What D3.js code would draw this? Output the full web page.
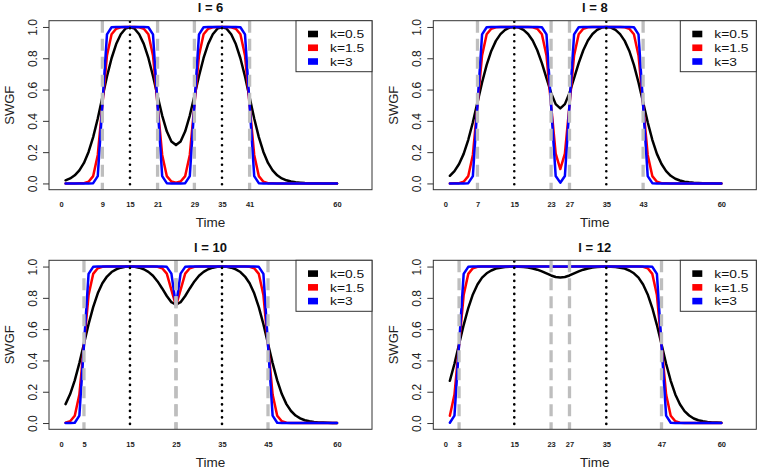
<!DOCTYPE html>
<html>
<head>
<meta charset="utf-8">
<script src="https://cdn.jsdelivr.net/npm/d3@7/dist/d3.min.js"></script>
<style>
  html, body { margin: 0; padding: 0; background: #fff; }
  svg { display: block; font-family: "Liberation Sans", Arial, Helvetica, sans-serif; }
</style>
</head>
<body>
<svg id="chart" width="760" height="469"></svg>
<script>
// ---------------- DATA ----------------
const time = [1,2,3,4,5,6,7,8,9,10,11,12,13,14,15,16,17,18,19,20,21,22,23,24,25,26,27,28,29,30,
              31,32,33,34,35,36,37,38,39,40,41,42,43,44,45,46,47,48,49,50,51,52,53,54,55,56,57,58,59,60];

const windowWidths = [6, 8, 10, 12];
const centers = [15, 35];
const seriesLabels = ["k=0.5", "k=1.5", "k=3"];

// x tick labels shown under each panel
const xTicksL6  = [0, 9, 15, 21, 29, 35, 41, 60];
const xTicksL8  = [0, 7, 15, 23, 27, 35, 43, 60];
const xTicksL10 = [0, 5, 15, 25, 35, 45, 60];
const xTicksL12 = [0, 3, 15, 23, 27, 35, 47, 60];

// dashed reference lines (window edges)
const edgesL6  = [9, 21, 29, 41];
const edgesL8  = [7, 23, 27, 43];
const edgesL10 = [5, 25, 25, 45];
const edgesL12 = [3, 23, 27, 47];

const yTicks = [0, 0.2, 0.4, 0.6, 0.8, 1.0];

// SWGF values, l = 6
const swgfL6k05 = [0.020,0.032,0.052,0.084,0.131,0.201,0.296,0.415,0.550,0.683,0.800,0.891,0.953,0.989,1.000,
                   0.989,0.953,0.892,0.802,0.687,0.559,0.434,0.333,0.268,0.245,0.268,0.333,0.434,0.559,0.687,
                   0.802,0.892,0.953,0.989,1.000,0.989,0.953,0.891,0.800,0.683,0.550,0.415,0.296,0.201,0.131,
                   0.084,0.052,0.032,0.020,0.012,0.007,0.005,0.003,0.002,0.001,0.001,0,0,0,0];
const swgfL6k15 = [0,0,0,0.001,0.002,0.011,0.047,0.182,0.500,0.818,0.953,0.989,0.998,1,1,
                   1,0.998,0.989,0.953,0.818,0.500,0.182,0.047,0.012,0.005,0.012,0.047,0.182,0.500,0.818,
                   0.953,0.989,0.998,1,1,1,0.998,0.989,0.953,0.818,0.500,0.182,0.047,0.011,0.002,
                   0.001,0,0,0,0,0,0,0,0,0,0,0,0,0,0];
const swgfL6k3  = [0,0,0,0,0,0,0.002,0.047,0.500,0.953,0.998,1,1,1,1,
                   1,1,1,0.998,0.953,0.500,0.047,0.002,0,0,0,0.002,0.047,0.500,0.953,
                   0.998,1,1,1,1,1,1,1,0.998,0.953,0.500,0.047,0.002,0,0,
                   0,0,0,0,0,0,0,0,0,0,0,0,0,0,0];

// SWGF values, l = 8
const swgfL8k05 = [0.049,0.079,0.124,0.189,0.279,0.391,0.518,0.645,0.758,0.847,0.911,0.954,0.981,0.996,1.000,
                   0.996,0.981,0.955,0.913,0.851,0.769,0.673,0.578,0.507,0.480,0.507,0.578,0.673,0.769,0.851,
                   0.913,0.955,0.981,0.996,1.000,0.996,0.981,0.954,0.911,0.847,0.758,0.645,0.518,0.391,0.279,
                   0.189,0.124,0.079,0.049,0.030,0.019,0.011,0.007,0.004,0.003,0.002,0.001,0.001,0,0];
const swgfL8k15 = [0,0.001,0.002,0.011,0.047,0.182,0.500,0.818,0.953,0.989,0.998,1,1,1,1,
                   1,1,1,0.998,0.989,0.953,0.818,0.501,0.191,0.092,0.191,0.501,0.818,0.953,0.989,
                   0.998,1,1,1,1,1,1,1,0.998,0.989,0.953,0.818,0.500,0.182,0.047,
                   0.011,0.002,0.001,0,0,0,0,0,0,0,0,0,0,0,0];
const swgfL8k3  = [0,0,0,0,0.002,0.047,0.500,0.953,0.998,1,1,1,1,1,1,
                   1,1,1,1,1,0.998,0.953,0.500,0.047,0.005,0.047,0.500,0.953,0.998,1,
                   1,1,1,1,1,1,1,1,1,1,0.998,0.953,0.500,0.047,0.002,
                   0,0,0,0,0,0,0,0,0,0,0,0,0,0,0];

// SWGF values, l = 10
const swgfL10k05 = [0.121,0.185,0.273,0.383,0.507,0.631,0.741,0.829,0.893,0.936,0.965,0.982,0.993,0.998,1.000,
                    0.998,0.993,0.983,0.966,0.941,0.905,0.860,0.812,0.772,0.757,0.772,0.812,0.860,0.905,0.941,
                    0.966,0.983,0.993,0.998,1.000,0.998,0.993,0.982,0.965,0.936,0.893,0.829,0.741,0.631,0.507,
                    0.383,0.273,0.185,0.121,0.077,0.048,0.030,0.018,0.011,0.007,0.004,0.003,0.002,0.001,0.001];
const swgfL10k15 = [0.002,0.011,0.047,0.182,0.500,0.818,0.953,0.989,0.998,1,1,1,1,1,1,
                    1,1,1,1,1,0.998,0.989,0.955,0.851,0.750,0.851,0.955,0.989,0.998,1,
                    1,1,1,1,1,1,1,1,1,1,0.998,0.989,0.953,0.818,0.500,
                    0.182,0.047,0.011,0.002,0.001,0,0,0,0,0,0,0,0,0,0];
const swgfL10k3  = [0,0,0.002,0.047,0.500,0.953,0.998,1,1,1,1,1,1,1,1,
                    1,1,1,1,1,1,1,0.998,0.955,0.750,0.955,0.998,1,1,1,
                    1,1,1,1,1,1,1,1,1,1,1,1,0.998,0.953,0.500,
                    0.047,0.002,0,0,0,0,0,0,0,0,0,0,0,0,0];

// SWGF values, l = 12
const swgfL12k05 = [0.270,0.379,0.503,0.626,0.735,0.822,0.885,0.929,0.957,0.975,0.987,0.993,0.997,0.999,1.000,
                    0.999,0.997,0.994,0.988,0.980,0.969,0.956,0.943,0.933,0.930,0.933,0.943,0.956,0.969,0.980,
                    0.988,0.994,0.997,0.999,1.000,0.999,0.997,0.993,0.987,0.975,0.957,0.929,0.885,0.822,0.735,
                    0.626,0.503,0.379,0.270,0.183,0.120,0.076,0.048,0.029,0.018,0.011,0.007,0.004,0.003,0.002];
const swgfL12k15 = [0.047,0.182,0.500,0.818,0.953,0.989,0.998,1,1,1,1,1,1,1,1,
                    1,1,1,1,1,1,1,0.999,0.998,0.998,0.998,0.999,1,1,1,
                    1,1,1,1,1,1,1,1,1,1,1,1,0.998,0.989,0.953,
                    0.818,0.500,0.182,0.047,0.011,0.002,0.001,0,0,0,0,0,0,0,0];
const swgfL12k3  = [0.002,0.047,0.500,0.953,0.998,1,1,1,1,1,1,1,1,1,1,
                    1,1,1,1,1,1,1,1,1,1,1,1,1,1,1,
                    1,1,1,1,1,1,1,1,1,1,1,1,1,1,0.998,
                    0.953,0.500,0.047,0.002,0,0,0,0,0,0,0,0,0,0,0];

// ---------------- LAYOUT / STYLE ----------------
const seriesColors = ["#000000", "#ff0000", "#0000ff"];
const panels = [
  { l: windowWidths[0], ticks: xTicksL6,  edges: edgesL6,  series: [swgfL6k05, swgfL6k15, swgfL6k3],   left: 49,  top: 20.7 },
  { l: windowWidths[1], ticks: xTicksL8,  edges: edgesL8,  series: [swgfL8k05, swgfL8k15, swgfL8k3],   left: 433.3, top: 20.7 },
  { l: windowWidths[2], ticks: xTicksL10, edges: edgesL10, series: [swgfL10k05, swgfL10k15, swgfL10k3], left: 49,  top: 260.3 },
  { l: windowWidths[3], ticks: xTicksL12, edges: edgesL12, series: [swgfL12k05, swgfL12k15, swgfL12k3], left: 433.3, top: 260.3 }
];
const plotW = 323, plotH = 169;

const svg = d3.select("#chart");
svg.append("rect").attr("width", 760).attr("height", 469).attr("fill", "#fff");

panels.forEach(p => {
  const L = p.left, R = p.left + plotW, T = p.top, B = p.top + plotH;
  const x = d3.scaleLinear().domain([-2.6, 67.6]).range([L, R]);
  const y = d3.scaleLinear().domain([-0.04, 1.04]).range([B, T]);
  const g = svg.append("g");

  const clipId = "clip" + p.l;
  g.append("clipPath").attr("id", clipId)
    .append("rect").attr("x", L).attr("y", T).attr("width", plotW).attr("height", plotH);

  const plot = g.append("g").attr("clip-path", `url(#${clipId})`);

  // curves
  const line = d3.line().x((d, i) => x(time[i])).y(d => y(d));
  p.series.forEach((s, i) => {
    plot.append("path").datum(s)
      .attr("d", line)
      .attr("fill", "none")
      .attr("stroke", seriesColors[i])
      .attr("stroke-width", 2.5)
      .attr("stroke-linejoin", "round")
      .attr("stroke-linecap", "round");
  });

  // dashed window-edge lines
  p.edges.forEach(e => {
    plot.append("line")
      .attr("x1", x(e)).attr("x2", x(e)).attr("y1", T).attr("y2", B)
      .attr("stroke", "#bebebe").attr("stroke-width", 3.3)
      .attr("stroke-dasharray", "12,6");
  });
  // dotted centre lines
  centers.forEach(c => {
    plot.append("line")
      .attr("x1", x(c)).attr("x2", x(c)).attr("y1", T + 1).attr("y2", B)
      .attr("stroke", "#000").attr("stroke-width", 2.6)
      .attr("stroke-linecap", "round")
      .attr("stroke-dasharray", "0.1,6.4");
  });

  // box
  g.append("rect").attr("x", L).attr("y", T).attr("width", plotW).attr("height", plotH)
    .attr("fill", "none").attr("stroke", "#333").attr("stroke-width", 1);

  // y axis
  const yAxis = g.append("g").attr("transform", `translate(${L},0)`)
    .call(d3.axisLeft(y).tickValues(yTicks).tickFormat(d3.format(".1f")).tickSize(6));
  yAxis.select(".domain").remove();
  yAxis.selectAll(".tick line").attr("stroke", "#333");
  yAxis.selectAll(".tick text")
    .attr("x", null).attr("dy", null)
    .attr("transform", "translate(-12.3,0) rotate(-90)")
    .attr("text-anchor", "middle")
    .attr("font-size", 12).attr("fill", "#222")
    .style("font-family", "'Liberation Sans', Arial, sans-serif");

  // x axis (labels only)
  const xAxis = g.append("g").attr("transform", `translate(0,${B})`)
    .call(d3.axisBottom(x).tickValues(p.ticks).tickFormat(d3.format("d")).tickSize(0));
  xAxis.select(".domain").remove();
  xAxis.selectAll(".tick text")
    .attr("y", 17.3).attr("dy", null)
    .attr("font-size", 7.5).attr("font-weight", "bold").attr("fill", "#222")
    .style("font-family", "'Liberation Sans', Arial, sans-serif");

  // title
  g.append("text").attr("x", (L + R) / 2).attr("y", T - 8.8)
    .attr("text-anchor", "middle").attr("font-size", 13).attr("font-weight", "bold")
    .attr("fill", "#111").text(`l = ${p.l}`);

  // axis titles
  g.append("text").attr("x", (L + R) / 2).attr("y", B + 37.4)
    .attr("text-anchor", "middle").attr("font-size", 13.5).attr("fill", "#222").text("Time");
  g.append("text")
    .attr("transform", `translate(${L - 35},${(T + B) / 2}) rotate(-90)`)
    .attr("text-anchor", "middle").attr("font-size", 13).attr("fill", "#222").text("SWGF");

  // legend
  const lg = g.append("g");
  lg.append("rect").attr("x", R - 76).attr("y", T).attr("width", 76).attr("height", 51)
    .attr("fill", "#fff").attr("stroke", "#333").attr("stroke-width", 1);
  seriesLabels.forEach((lab, i) => {
    const cy = T + 13.3 + i * 13.75;
    lg.append("rect").attr("x", R - 64).attr("y", cy - 3.3).attr("width", 10).attr("height", 6.6)
      .attr("fill", seriesColors[i]);
    lg.append("text")
      .attr("transform", `translate(${R - 42},${cy + 4.3}) scale(1.2,1)`)
      .attr("font-size", 11.5).attr("fill", "#111").text(lab);
  });
});
</script>
</body>
</html>
